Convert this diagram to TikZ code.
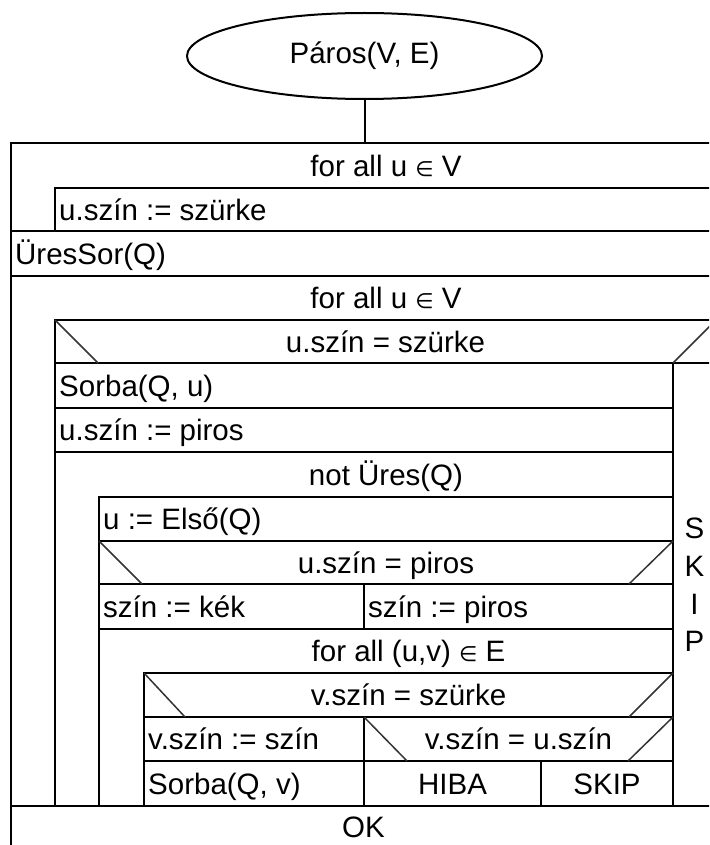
\documentclass[tikz,border=0pt]{standalone}
\usepackage{fontspec}
\setmainfont{Liberation Sans}
\newfontfamily\symfont{DejaVu Sans}
\usetikzlibrary{shapes.geometric}
\newcommand{\elemsym}{{\symfont\fontsize{21}{26}\selectfont ∈}}
\newcommand{\fs}{\fontsize{29.5}{38}\selectfont}
\begin{document}
\begin{tikzpicture}[x=1pt,y=-1pt,
  box/.style={line width=2.4pt, line cap=rect},
  diag/.style={line width=1.5pt, draw=black!80},
  lbl/.style={inner sep=0pt, anchor=base west, font=\fs},
  ctr/.style={inner sep=0pt, anchor=base, font=\fs}]
\useasboundingbox (0,0) rectangle (709,845);
\clip (0,0) rectangle (709,845);
\fill[white] (0,0) rectangle (709,845);

% start ellipse and connector
\node[draw, ellipse, line width=2pt, minimum width=355pt, minimum height=86pt, inner sep=0pt, font=\fs] (start) at (364.5,56) {Páros(V, E)};
\coordinate (top) at (364.5,143);
\draw[line width=2pt] (start.south) -- (top);

% horizontal lines
\draw[box] (11,143) -- (730,143);
\draw[box] (55,188) -- (730,188);
\draw[box] (11,231) -- (730,231);
\draw[box] (11,276) -- (730,276);
\draw[box] (55,320) -- (730,320);
\draw[box] (55,363) -- (730,363);
\draw[box] (55,408) -- (673,408);
\draw[box] (55,452) -- (673,452);
\draw[box] (99,497) -- (673,497);
\draw[box] (99,541) -- (673,541);
\draw[box] (99,584) -- (673,584);
\draw[box] (99,629) -- (673,629);
\draw[box] (144,673) -- (673,673);
\draw[box] (144,717) -- (673,717);
\draw[box] (144,761) -- (673,761);
\draw[box] (11,806) -- (730,806);

% vertical lines
\draw[box] (11,143) -- (11,860);
\draw[box] (55,188) -- (55,231);
\draw[box] (55,320) -- (55,806);
\draw[box] (99,497) -- (99,806);
\draw[box] (144,673) -- (144,806);
\draw[box] (364,584) -- (364,629);
\draw[box] (364,717) -- (364,806);
\draw[box] (541,761) -- (541,806);
\draw[box] (673,363) -- (673,806);
\draw[box] (716,143) -- (716,860);

% diagonals of the branches
\draw[diag] (55,320) -- (98,363);
\draw[diag] (673,363) -- (716,320);
\draw[diag] (99,541) -- (142,584);
\draw[diag] (629,584) -- (673,541);
\draw[diag] (144,673) -- (185,717);
\draw[diag] (629,717) -- (673,673);
\draw[diag] (364,717) -- (407,761);
\draw[diag] (628,761) -- (673,717);

% texts
\node[ctr] (loop1) at (386,176.5) {for all u \elemsym\ V};
\node[lbl] (t1) at (59,220) {u.szín := szürke};
\node[lbl] (t2) at (15,264) {ÜresSor(Q)};
\node[ctr] (loop2) at (386,308.5) {for all u \elemsym\ V};
\node[ctr] (if1) at (385.5,352) {u.szín = szürke};
\node[lbl] (t3) at (59,396) {Sorba(Q, u)};
\node[lbl] (t4) at (59,440.5) {u.szín := piros};
\node[ctr] (while) at (386,485) {not Üres(Q)};
\node[lbl] (t5) at (103,529.5) {u := Első(Q)};
\node[ctr] (if2) at (386,573) {u.szín = piros};
\node[lbl] (t6) at (103,617) {szín := kék};
\node[lbl] (t7) at (368,617) {szín := piros};
\node[ctr] (loop3) at (408.5,661.5) {for all (u,v) \elemsym\ E};
\node[ctr] (if3) at (408.5,705.5) {v.szín = szürke};
\node[lbl] (t8) at (148,749.5) {v.szín := szín};
\node[ctr] (if4) at (518.5,749.5) {v.szín = u.szín};
\node[lbl] (t9) at (148,794) {Sorba(Q, v)};
\node[ctr] (hiba) at (452.5,794) {HIBA};
\node[ctr] (skip) at (607,794) {SKIP};
\node[ctr] (ok) at (363.5,837) {OK};
\node[inner sep=0pt, anchor=base, font=\fs] (sk1) at (694.5,538) {S};
\node[inner sep=0pt, anchor=base, font=\fs] (sk2) at (694.5,576) {K};
\node[inner sep=0pt, anchor=base, font=\fs] (sk3) at (694.5,614) {I};
\node[inner sep=0pt, anchor=base, font=\fs] (sk4) at (694.5,651) {P};
\end{tikzpicture}
\end{document}
